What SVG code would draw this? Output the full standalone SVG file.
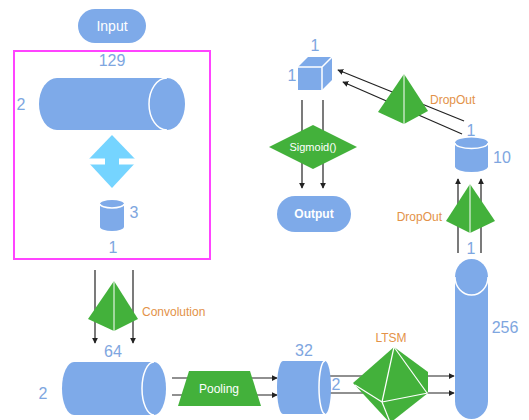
<svg xmlns="http://www.w3.org/2000/svg" width="529" height="420" viewBox="0 0 529 420">
  <defs>
    <marker id="arrow" viewBox="0 0 8 8" refX="7" refY="4" markerWidth="6" markerHeight="6" markerUnits="userSpaceOnUse" orient="auto">
      <path d="M0,0 L8,4 L0,8 Z" fill="#222"/>
    </marker>
    <style>
      .blue { fill: #7EAAE9; }
      .green { fill: #43B13B; }
      .cyan { fill: #75D4FF; }
      .edge { fill: none; stroke: #FFFFFF; stroke-width: 1.5; }
      .num { font-family: "Liberation Sans", Arial, sans-serif; font-size: 16px; fill: #7EA6E0; }
      .op { font-family: "Liberation Sans", Arial, sans-serif; font-size: 12px; fill: #E39248; }
      .label { font-family: "Liberation Sans", Arial, sans-serif; fill: #FFFFFF; text-anchor: middle; }
      .link { fill: none; stroke: #222; stroke-width: 1.2; marker-end: url(#arrow); }
    </style>
  </defs>

  <rect width="529" height="420" fill="#FFFFFF"/>

  <!-- connectors (drawn beneath the operator shapes) -->
  <g id="connectors">
    <line class="link" x1="95" y1="270" x2="95" y2="343"/>
    <line class="link" x1="133" y1="270" x2="133" y2="343"/>
    <line class="link" x1="172" y1="378" x2="277" y2="378"/>
    <line class="link" x1="172" y1="395" x2="277" y2="395"/>
    <line class="link" x1="328" y1="376" x2="454" y2="376"/>
    <line class="link" x1="328" y1="393" x2="454" y2="393"/>
    <line class="link" x1="458" y1="253" x2="458" y2="179"/>
    <line class="link" x1="481" y1="253" x2="481" y2="179"/>
    <line class="link" x1="464" y1="121" x2="338" y2="70"/>
    <line class="link" x1="462" y1="134" x2="343" y2="82"/>
    <line class="link" x1="302" y1="100" x2="302" y2="188"/>
    <line class="link" x1="323" y1="100" x2="323" y2="188"/>
  </g>

  <!-- input terminal -->
  <g id="input">
    <rect class="blue" x="78" y="9" width="68" height="34" rx="17"/>
    <text class="label" x="112" y="31" font-size="14">Input</text>
  </g>

  <!-- input tensor frame -->
  <g id="input-frame">
    <rect x="14" y="51" width="196" height="208" fill="none" stroke="#FF44FF" stroke-width="2"/>
  </g>

  <g id="tensor-129">
    <path class="blue" d="M57,78 H167 A18,26 0 0 1 167,130 H57 A18,26 0 0 1 57,78 Z"/>
    <path class="edge" d="M167,78 A18,26 0 0 0 167,130"/>
    <text class="num" x="112" y="66" text-anchor="middle">129</text>
    <text class="num" x="21" y="110" text-anchor="middle">2</text>
  </g>

  <g id="reshape">
    <polygon class="cyan" points="112,135 137,161 112,188 87,161"/>
    <rect x="86" y="158.5" width="19" height="6" fill="#FFFFFF"/>
    <rect x="119" y="158.5" width="19" height="6" fill="#FFFFFF"/>
  </g>

  <g id="tensor-3">
    <path class="blue" d="M100,204 A12,4 0 0 1 124,204 V227 A12,4 0 0 1 100,227 Z"/>
    <path class="edge" d="M100,204 A12,4 0 0 0 124,204" stroke-width="1"/>
    <text class="num" x="134" y="218" text-anchor="middle">3</text>
    <text class="num" x="113" y="253" text-anchor="middle">1</text>
  </g>

  <!-- convolution -->
  <g id="convolution">
    <polygon class="green" points="114,281 138,319 114,331 88,319"/>
    <line x1="114" y1="281" x2="114" y2="331" stroke="#FFFFFF" stroke-width="1"/>
    <text class="op" x="142" y="316">Convolution</text>
  </g>

  <g id="tensor-64">
    <path class="blue" d="M74,362 H154 A12,26.5 0 0 1 154,415 H74 A12,26.5 0 0 1 74,362 Z"/>
    <path class="edge" d="M154,362 A12,26.5 0 0 0 154,415"/>
    <text class="num" x="113" y="357" text-anchor="middle">64</text>
    <text class="num" x="43" y="399" text-anchor="middle">2</text>
  </g>

  <g id="pooling">
    <polygon class="green" points="189,371 250,371 261,406 178,406"/>
    <text class="label" x="219" y="393" font-size="12">Pooling</text>
  </g>

  <g id="tensor-32">
    <path class="blue" d="M283,361 H325 A6,26.5 0 0 1 325,414 H283 A6,26.5 0 0 1 283,361 Z"/>
    <path class="edge" d="M325,361 A6,26.5 0 0 0 325,414"/>
    <text class="num" x="304" y="356" text-anchor="middle">32</text>
    <text class="num" x="336" y="390" text-anchor="middle">2</text>
  </g>

  <g id="ltsm">
    <polygon class="green" points="394,347 428,372 428,393 390,423 353,383"/>
    <g stroke="#FFFFFF" stroke-width="1.2" fill="none">
      <line x1="394" y1="347" x2="382" y2="402"/>
      <line x1="394" y1="347" x2="427" y2="393"/>
      <line x1="355" y1="385" x2="382" y2="402"/>
      <line x1="382" y1="402" x2="428" y2="393"/>
      <line x1="382" y1="402" x2="390" y2="422"/>
    </g>
    <text class="op" x="391" y="342" text-anchor="middle" font-size="11.5">LTSM</text>
  </g>

  <g id="tensor-256">
    <path class="blue" d="M455,277 A16.5,18 0 0 1 488,277 V401 A16.5,18 0 0 1 455,401 Z"/>
    <path class="edge" d="M455,277 A16.5,18 0 0 0 488,277" stroke-width="2"/>
    <text class="num" x="505" y="333" text-anchor="middle">256</text>
    <text class="num" x="471" y="254" text-anchor="middle">1</text>
  </g>

  <g id="dropout-1">
    <polygon class="green" points="470,184 495,221 470,233 446,221"/>
    <line x1="470" y1="184" x2="470" y2="233" stroke="#FFFFFF" stroke-width="1"/>
    <text class="op" x="442" y="221" text-anchor="end">DropOut</text>
  </g>

  <g id="tensor-10">
    <path class="blue" d="M455,143 A16.5,5.5 0 0 1 488,143 V166.5 A16.5,5.5 0 0 1 455,166.5 Z"/>
    <path class="edge" d="M455,143 A16.5,5.5 0 0 0 488,143" stroke-width="1.2"/>
    <text class="num" x="502" y="163" text-anchor="middle">10</text>
    <text class="num" x="471" y="136" text-anchor="middle">1</text>
  </g>

  <g id="dropout-2">
    <polygon class="green" points="404,74 428,111 404,124 378,112"/>
    <line x1="404" y1="74" x2="404" y2="124" stroke="#FFFFFF" stroke-width="1"/>
    <text class="op" x="430" y="104">DropOut</text>
  </g>

  <g id="tensor-1">
    <polygon class="blue" points="298,67 322,67 322,90 298,90"/>
    <polygon class="blue" points="298,67 308,57 332,57 322,67"/>
    <polygon class="blue" points="322,67 332,57 332,80 322,90"/>
    <path class="edge" d="M298,67 H322 V90 M322,67 L332,57" stroke-width="1"/>
    <text class="num" x="315" y="51" text-anchor="middle">1</text>
    <text class="num" x="292" y="81" text-anchor="middle">1</text>
  </g>

  <g id="sigmoid">
    <polygon class="green" points="313,125 357,147 313,169 269,147"/>
    <text class="label" x="313" y="151" font-size="11">Sigmoid()</text>
  </g>

  <g id="output">
    <rect class="blue" x="277" y="196" width="74" height="36" rx="18"/>
    <text class="label" x="314" y="218" font-size="12" font-weight="bold">Output</text>
  </g>
</svg>
